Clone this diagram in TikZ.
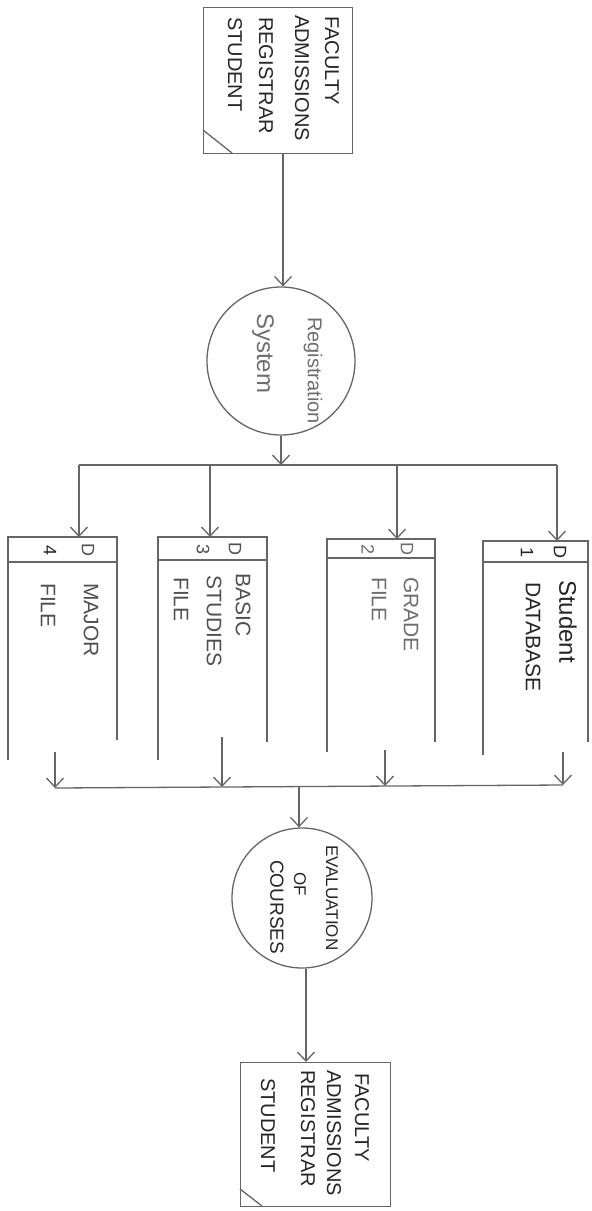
\documentclass[tikz,border=0pt]{standalone}
\usepackage{fontspec}
\setmainfont{Liberation Sans}
\usetikzlibrary{arrows.meta,calc}
\definecolor{linecol}{HTML}{666666}
\definecolor{darktxt}{HTML}{262626}
\definecolor{midtxt}{HTML}{505050}
\definecolor{lighttxt}{HTML}{6E6E6E}
\tikzset{
  ln/.style={draw=linecol, line width=1.3pt},
  arr/.style={ln, -{Straight Barb[length=9pt,width=17pt,line width=1.3pt]}},
  entbox/.style={ln, rectangle, inner sep=0pt, anchor=north west},
  procc/.style={ln, circle, inner sep=0pt},
  lbl/.style={rotate=-90, anchor=west, inner sep=0pt},
  enttxt/.style={lbl, text=darktxt, font=\fontsize{20}{20}\selectfont},
  storetxt/.style={lbl, text=midtxt, font=\fontsize{21}{21}\selectfont},
  hdrtxt/.style={rotate=-90, anchor=center, inner sep=0pt, text=midtxt, font=\fontsize{18}{18}\selectfont},
  proctxt/.style={lbl, font=\fontsize{20}{20}\selectfont},
}
\begin{document}
\begin{tikzpicture}[x=1pt,y=-1pt]
\useasboundingbox[fill=white] (0,0) rectangle (592,1211);

% ---------- top external entity ----------
\node[entbox, minimum width=149pt, minimum height=146pt] (ent1) at (203,7) {};
\draw[ln] (203,130) -- (232,153);
\node[enttxt] (e1a) at (332,16) {FACULTY};
\node[enttxt] (e1b) at (302,15) {ADMISSIONS};
\node[enttxt] (e1c) at (266,17) {REGISTRAR};
\node[enttxt] (e1d) at (235,17) {STUDENT};

% ---------- process 1 ----------
\node[procc, minimum size=148pt] (p1) at (281,361) {};
\node[proctxt, text=lighttxt] (p1a) at (313,317) {Registration};
\node[proctxt, text=lighttxt, font=\fontsize{24}{24}\selectfont] (p1b) at (263,313) {System};

\coordinate (p1in) at (283,153);
\draw[arr] (p1in) -- (p1in |- p1.north);

% ---------- data stores ----------
% store 4
\draw[ln] (8,760) -- (8,537) -- (117,537) -- (117,740);
\draw[ln] (8,562) -- (117,562);
\node[hdrtxt, text=darktxt] (h4n) at (50,550) {4};
\node[hdrtxt] (h4d) at (88,550) {D};
\node[storetxt] (s4a) at (91,583) {MAJOR};
\node[storetxt] (s4b) at (48,583) {FILE};
% store 3
\draw[ln] (158,760) -- (158,537) -- (267,537) -- (267,742);
\draw[ln] (158,560) -- (267,560);
\node[hdrtxt] (h3n) at (203,549) {3};
\node[hdrtxt] (h3d) at (235,549) {D};
\node[storetxt] (s3a) at (243,573) {BASIC};
\node[storetxt] (s3b) at (214,575) {STUDIES};
\node[storetxt] (s3c) at (181,577) {FILE};
% store 2
\draw[ln] (327,752) -- (327,539) -- (435,539) -- (435,742);
\draw[ln] (327,558) -- (435,558);
\node[hdrtxt, text=lighttxt] (h2n) at (368,549) {2};
\node[hdrtxt, text=lighttxt] (h2d) at (407,549) {D};
\node[storetxt, text=lighttxt] (s2a) at (411,577) {GRADE};
\node[storetxt, text=lighttxt] (s2b) at (379,577) {FILE};
% store 1
\draw[ln] (483,755) -- (483,541) -- (588,541) -- (588,742);
\draw[ln] (483,562) -- (588,562);
\node[hdrtxt, text=darktxt] (h1n) at (527,552) {1};
\node[hdrtxt, text=darktxt] (h1d) at (560,552) {D};
\node[storetxt, text=darktxt, font=\fontsize{24}{24}\selectfont] (s1a) at (568,580) {Student};
\node[storetxt, text=darktxt] (s1b) at (533,582) {DATABASE};

% store inputs / outputs
\coordinate (s4in) at (79,537);
\coordinate (s3in) at (210,537);
\coordinate (s2in) at (397,539);
\coordinate (s1in) at (557,541);
\coordinate (s4out) at (55,752);
\coordinate (s3out) at (222,737);
\coordinate (s2out) at (385,750);
\coordinate (s1out) at (563,752);

% ---------- fan-out bar ----------
\coordinate (b1L) at (79,465);
\coordinate (b1R) at (557,465);
\draw[ln] (b1L) -- (b1R);
\draw[arr] (p1.south) -- (p1.south |- b1L);
\draw[arr] (b1L) -- (s4in);
\draw[arr] (s3in |- b1L) -- (s3in);
\draw[arr] (s2in |- b1L) -- (s2in);
\draw[arr] (b1R) -- (s1in);

% ---------- fan-in bar ----------
\coordinate (b2L) at (55,788);
\coordinate (b2R) at (563,785);
\draw[ln] (b2L) -- (b2R);
\draw[arr] (s4out) -- (s4out |- b2L);
\draw[arr] (s3out) -- (222,787);
\draw[arr] (s2out) -- (385,786);
\draw[arr] (s1out) -- (s1out |- b2R);

% ---------- process 2 ----------
\node[procc, minimum size=140pt] (p2) at (302,898) {};
\node[proctxt, text=darktxt, font=\fontsize{17}{17}\selectfont] (p2a) at (332,845) {EVALUATION};
\node[proctxt, text=darktxt, font=\fontsize{17}{17}\selectfont] (p2b) at (300,872) {OF};
\node[proctxt, text=darktxt, font=\fontsize{19}{19}\selectfont] (p2c) at (277,860) {COURSES};
\coordinate (p2in) at (299,787);
\draw[arr] (p2in) -- (p2in |- p2.north);

% ---------- bottom external entity ----------
\node[entbox, minimum width=150pt, minimum height=144pt] (ent2) at (240,1062) {};
\draw[ln] (240,1189) -- (262,1206);
\node[enttxt] (e2a) at (362,1073) {FACULTY};
\node[enttxt] (e2b) at (334,1070) {ADMISSIONS};
\node[enttxt] (e2c) at (308,1070) {REGISTRAR};
\node[enttxt] (e2d) at (268,1078) {STUDENT};

\coordinate (e2in) at (306,1062);
\draw[arr] (p2.south -| e2in) -- (e2in);
\end{tikzpicture}
\end{document}
